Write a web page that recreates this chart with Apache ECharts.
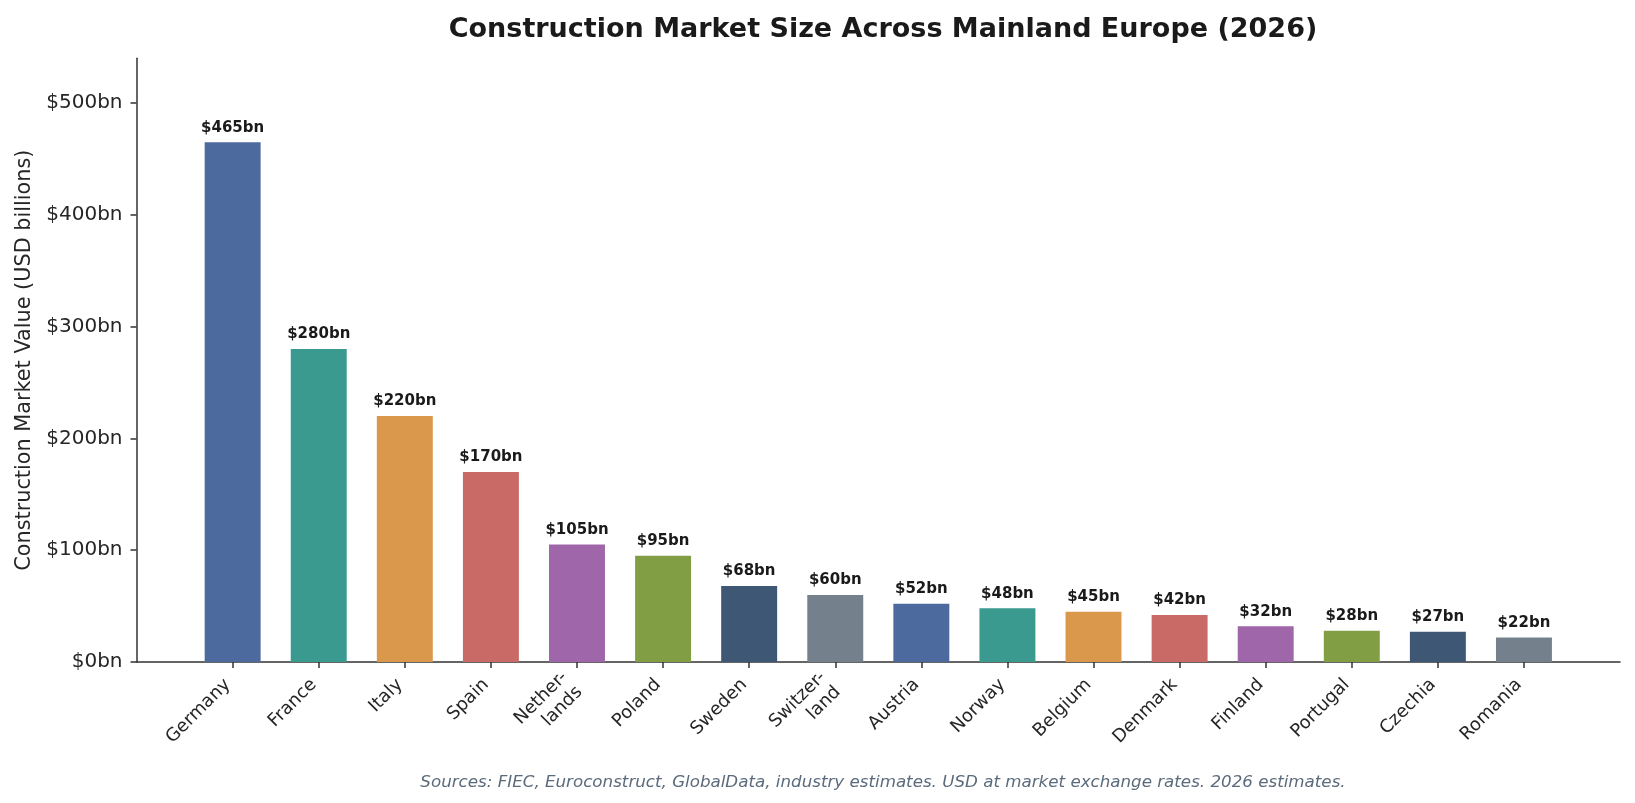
<!DOCTYPE html>
<html><head><meta charset="utf-8">
<script src="https://cdn.jsdelivr.net/npm/echarts@6/dist/echarts.min.js"></script>
<style>html,body{margin:0;padding:0;background:#fff}#c{width:1635px;height:803px}</style>
</head><body><div id="c"></div>
<script>
const categories = ['Germany','France','Italy','Spain','Nether-\nlands','Poland','Sweden','Switzer-\nland','Austria','Norway','Belgium','Denmark','Finland','Portugal','Czechia','Romania'];
const values = [465,280,220,170,105,95,68,60,52,48,45,42,32,28,27,22];
const colors = ['#4C6A9E','#3B9A8F','#DA984C','#C96A67','#A066AA','#829E45','#3D5774','#74818D','#4C6A9E','#3B9A8F','#DA984C','#C96A67','#A066AA','#829E45','#3D5774','#74818D'];
const yTicks = [0,100,200,300,400,500];
const titleText = 'Construction Market Size Across Mainland Europe (2026)';
const yName = 'Construction Market Value (USD billions)';
const footer = 'Sources: FIEC, Euroconstruct, GlobalData, industry estimates. USD at market exchange rates. 2026 estimates.';

const FONT = 'DejaVu Sans';
const axisColor = '#333333';
const yMax = 540;

const chart = echarts.init(document.getElementById('c'));
chart.setOption({
  animation: false,
  textStyle: {fontFamily: FONT},
  title: [{
    text: titleText, left: 878, top: 11, textAlign: 'center',
    textStyle: {fontFamily: FONT, fontSize: 27, fontWeight: 'bold', color: '#1a1a1a'}
  },{
    text: footer, left: 878, top: 769, textAlign: 'center',
    textStyle: {fontFamily: FONT, fontSize: 16.7, fontStyle: 'italic', fontWeight: 'normal', color: '#5b6b7c'}
  }],
  grid: [
    {left: 136.5, right: 15, top: 58.3, bottom: 141, containLabel: false},
    {left: 189.6, right: 68, top: 58.3, bottom: 141, containLabel: false}
  ],
  xAxis: [
    {type: 'value', gridIndex: 0, min: 0, max: 1, show: true,
     axisLine: {show: true, onZero: false, lineStyle: {color: axisColor, width: 1.5}},
     axisTick: {show: false}, axisLabel: {show: false}, splitLine: {show: false}},
    {type: 'category', gridIndex: 1, data: categories, boundaryGap: true,
     axisLine: {show: false},
     axisTick: {show: true, alignWithLabel: true, length: 6, lineStyle: {color: axisColor, width: 1.5}},
     axisLabel: {rotate: 45, interval: 0, margin: 15, padding: [0, 7, 0, 0],
       fontFamily: FONT, fontSize: 18, color: '#262626', lineHeight: 21}}
  ],
  yAxis: [
    {type: 'value', gridIndex: 0, min: 0, max: yMax, interval: 100,
     name: yName, nameLocation: 'middle', nameGap: 100, nameRotate: 90,
     nameTextStyle: {fontFamily: FONT, fontSize: 20.8, color: '#262626'},
     axisLine: {show: true, lineStyle: {color: axisColor, width: 1.5}},
     axisTick: {show: true, length: 6, lineStyle: {color: axisColor, width: 1.5},
       customValues: yTicks},
     axisLabel: {fontFamily: FONT, fontSize: 20, color: '#262626', margin: 14,
       customValues: yTicks,
       formatter: v => '$' + v + 'bn'},
     splitLine: {show: false}},
    {type: 'value', gridIndex: 1, min: 0, max: yMax, show: false}
  ],
  series: [{
    type: 'bar', xAxisIndex: 1, yAxisIndex: 1,
    barWidth: '65%',
    data: values.map((v, i) => ({value: v, itemStyle: {color: colors[i]}})),
    label: {show: true, position: 'top', distance: 7, formatter: p => '$' + p.value + 'bn',
      fontFamily: FONT, fontSize: 15, fontWeight: 'bold', color: '#1a1a1a'}
  }]
});
</script></body></html>
